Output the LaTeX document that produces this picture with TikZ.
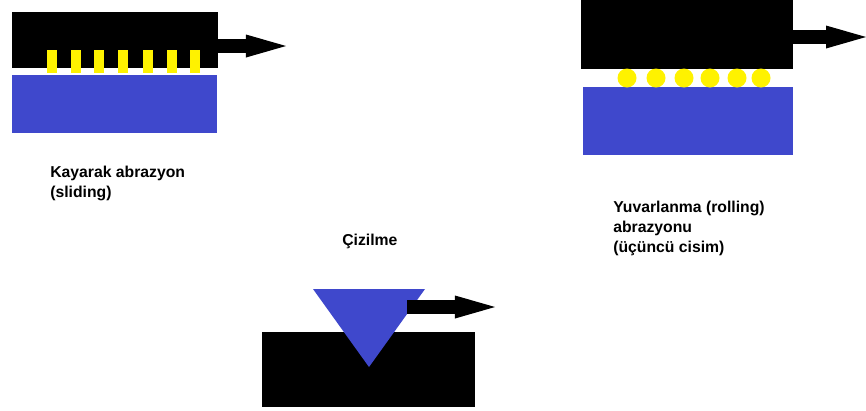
\documentclass[tikz,border=0pt]{standalone}
\usepackage{fontspec}
\setmainfont{Liberation Sans}
\usetikzlibrary{arrows.meta}
\definecolor{plateblue}{HTML}{3F48CC}
\definecolor{grainyellow}{HTML}{FFF200}

\begin{document}
\begin{tikzpicture}[
  x=0.025cm, y=-0.025cm,
  every node/.style={anchor=base west, inner sep=0pt, align=left, font=\fontsize{11.2}{14.2}\selectfont\bfseries},
  motion/.style={line width=9.5pt, -{Triangle[length=1cm, width=0.575cm, line width=0pt]}}
]
\useasboundingbox (0,0) rectangle (866,410);
\fill (12,12) rectangle (218,68);
\fill[plateblue] (12,75) rectangle (217,133);
\foreach \gx in {52,76,99,123,148,172,195}
  \fill[grainyellow] (\gx-5,50) rectangle (\gx+5,73);
\coordinate (slidefrom) at (217,46);
\coordinate (slideto) at (286,46);
\draw[motion] (slidefrom) -- (slideto);
\node (slidelabel) at (50,197.7) {Kayarak abrazyon\\(sliding)};
\fill (581,0) rectangle (793,69);
\fill[plateblue] (583,87) rectangle (793,155);
\foreach \gx in {627,656,684,710,737,761}
  \fill[grainyellow] (\gx,78) circle[radius=9.5];
\coordinate (rollfrom) at (792,37);
\coordinate (rollto) at (866,37);
\draw[motion] (rollfrom) -- (rollto);
\node (rolllabel) at (613,252) {Yuvarlanma (rolling)\\abrazyonu\\(üçüncü cisim)};
\fill (262,332) rectangle (475,407);
\fill[plateblue] (313,289) -- (425,289) -- (369,367) -- cycle;
\coordinate (scratchfrom) at (407,307);
\coordinate (scratchto) at (495,307);
\draw[motion] (scratchfrom) -- (scratchto);
\node (scratchlabel) at (342,245) {Çizilme};
\end{tikzpicture}
\end{document}
